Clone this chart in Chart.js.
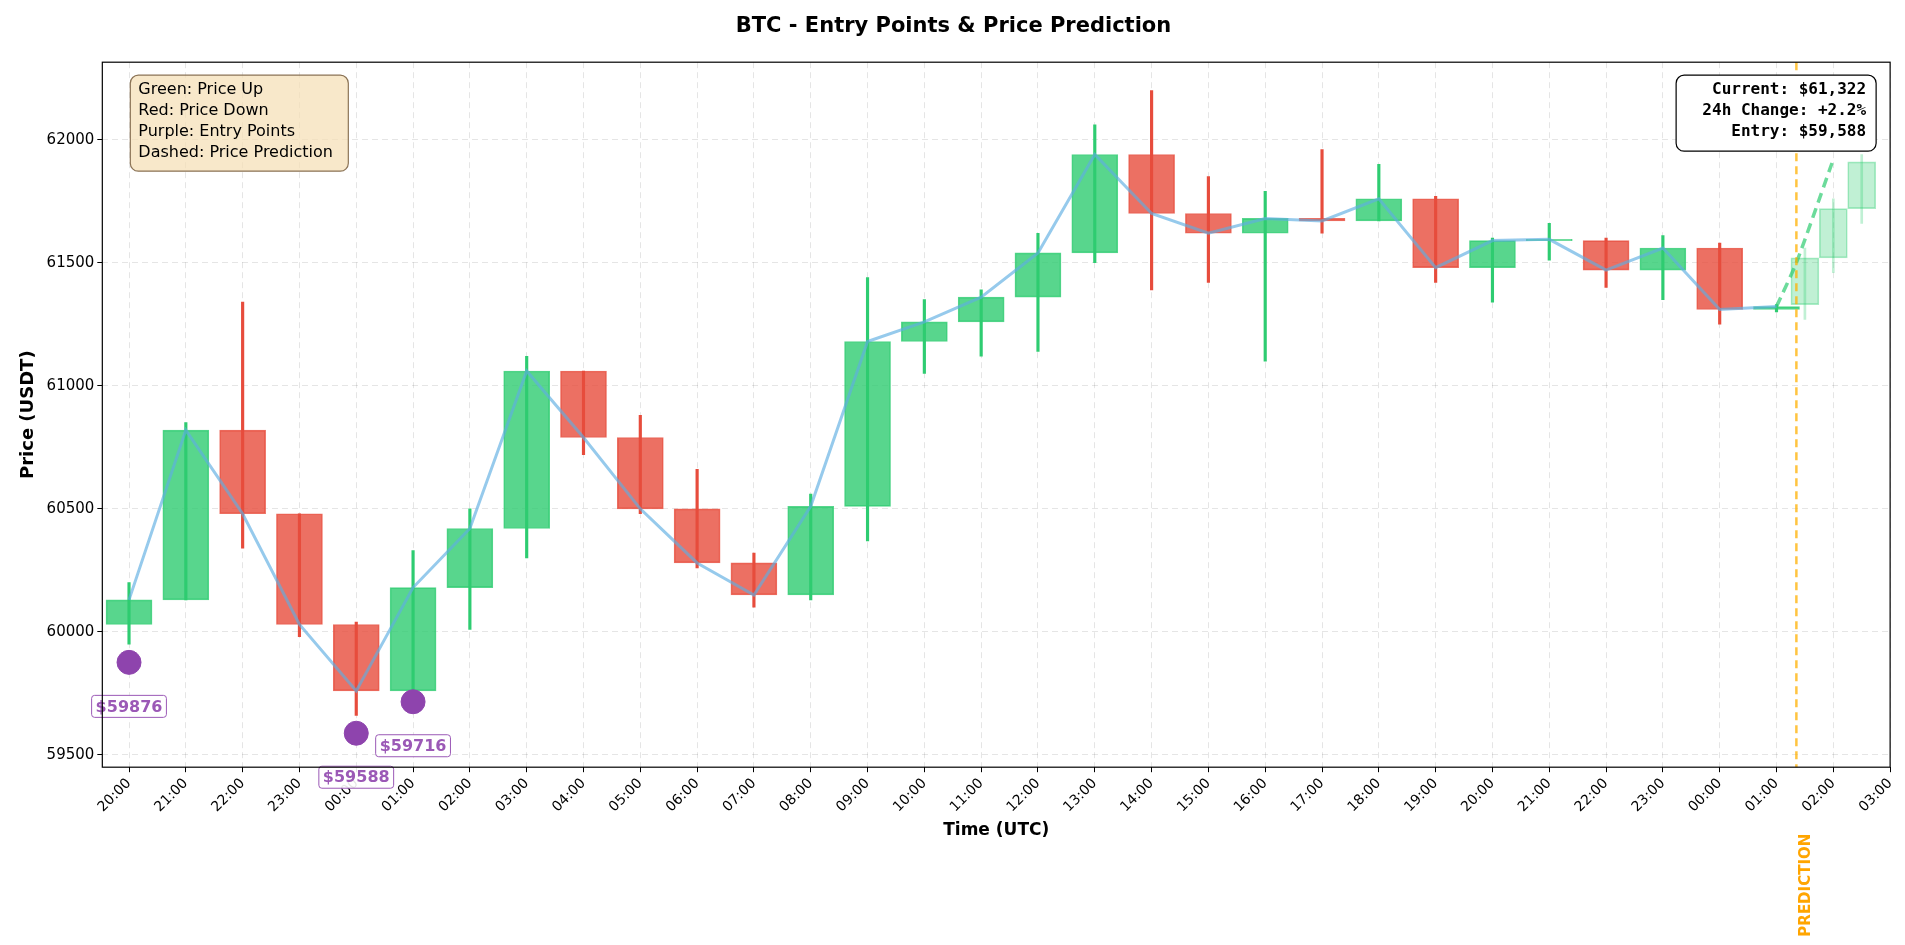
<!DOCTYPE html>
<html>
<head>
<meta charset="utf-8">
<script src="https://cdn.jsdelivr.net/npm/chart.js@4.4.0/dist/chart.umd.min.js"></script>
<style>
  body { margin: 0; background: #fff; }
  #wrap { width: 1905px; height: 945px; }
</style>
</head>
<body>
<div id="wrap"><canvas id="btcChart"></canvas></div>
<script>
// tick labels (one per hour)
const hourLabels = ['20:00','21:00','22:00','23:00','00:00','01:00','02:00','03:00','04:00','05:00',
  '06:00','07:00','08:00','09:00','10:00','11:00','12:00','13:00','14:00','15:00','16:00','17:00',
  '18:00','19:00','20:00','21:00','22:00','23:00','00:00','01:00','02:00','03:00'];

// OHLC valeurs
const opens  = [60030,60130,60820,60480,60030,59760,60180,60420,61060,60790,60500,60280,60150,60510,61180,61260,61360,61540,61940,61700,61620,61680,61670,61760,61480,61590,61590,61470,61560,61310];
const closes = [60130,60820,60480,60030,59760,60180,60420,61060,60790,60500,60280,60150,60510,61180,61260,61360,61540,61940,61700,61620,61680,61670,61760,61480,61590,61595,61470,61560,61310,61322];
const highs  = [60200,60850,61340,60480,60040,60330,60500,61120,61060,60880,60660,60320,60560,61440,61350,61390,61620,62060,62200,61850,61790,61960,61900,61770,61600,61660,61600,61610,61580,61330];
const lows   = [59950,60130,60340,59980,59660,59750,60010,60300,60720,60480,60260,60100,60130,60370,61050,61120,61140,61500,61390,61420,61100,61620,61670,61420,61340,61510,61400,61350,61250,61300];

// prédiction
const predX      = [29.5, 30, 30.5];
const predOpens  = [61330, 61520, 61720];
const predCloses = [61520, 61720, 61910];
const predHighs  = [61560, 61760, 61940];
const predLows   = [61270, 61460, 61660];
const predLineX  = [29, 29.35, 30];
const predLineY  = [61322, 61500, 61920];
const predictionAt = 29.35;

// points d'entrée
const entryX = [0, 4, 5];
const entryY = [59876, 59588, 59716];

const GREEN = 'rgba(46,204,113,0.8)';
const RED = 'rgba(231,76,60,0.8)';

const bodies = opens.map((o, i) => ({ x: i, y: [o, closes[i]] }));
const wicks = opens.map((o, i) => ({ x: i, y: [lows[i], highs[i]] }));
const bodyColors = opens.map((o, i) => closes[i] >= o ? GREEN : RED);
const wickColors = opens.map((o, i) => closes[i] >= o ? '#2ecc71' : '#e74c3c');

// plugin pour les annotations (boîtes de texte, ligne PREDICTION, étiquettes)
const annotations = {
  id: 'annotations',
  afterDatasetsDraw(chart) {
    const { ctx, chartArea, scales } = chart;
    const xs = scales.x, ys = scales.y;
    ctx.save();

    // ligne verticale prédiction
    const px = xs.getPixelForValue(predictionAt);
    ctx.strokeStyle = 'rgba(255,176,0,0.75)';
    ctx.lineWidth = 2.5;
    ctx.setLineDash([8, 5]);
    ctx.beginPath(); ctx.moveTo(px, chartArea.top); ctx.lineTo(px, chartArea.bottom); ctx.stroke();
    ctx.setLineDash([]);

    ctx.save();
    ctx.translate(px + 10, chartArea.bottom + 118);
    ctx.rotate(-Math.PI / 2);
    ctx.fillStyle = '#ffa500';
    ctx.font = 'bold 15px "DejaVu Sans"';
    ctx.textAlign = 'center';
    ctx.textBaseline = 'middle';
    ctx.fillText('PREDICTION', 0, 0);
    ctx.restore();

    // étiquettes des points d'entrée
    ctx.font = 'bold 16px "DejaVu Sans"';
    entryX.forEach((ex, i) => {
      const cx = xs.getPixelForValue(ex);
      const cy = ys.getPixelForValue(entryY[i]) + 44;
      const txt = '$' + entryY[i];
      const w = ctx.measureText(txt).width + 8;
      ctx.fillStyle = 'rgba(255,255,255,0.9)';
      ctx.strokeStyle = '#9b59b6';
      ctx.lineWidth = 1;
      roundRect(ctx, cx - w / 2, cy - 11, w, 22, 3);
      ctx.fill(); ctx.stroke();
      ctx.fillStyle = '#9b59b6';
      ctx.textAlign = 'center';
      ctx.textBaseline = 'middle';
      ctx.fillText(txt, cx, cy + 1);
    });

    // boîte de légende
    const legendLines = ['Green: Price Up', 'Red: Price Down', 'Purple: Entry Points', 'Dashed: Price Prediction'];
    ctx.font = '16px "DejaVu Sans"';
    const lx = chartArea.left + 28, ly = chartArea.top + 13;
    ctx.fillStyle = 'rgba(245,222,179,0.7)';
    ctx.strokeStyle = '#8b7355';
    ctx.lineWidth = 1.2;
    roundRect(ctx, lx, ly, 218, 96, 8);
    ctx.fill(); ctx.stroke();
    ctx.fillStyle = '#000';
    ctx.textAlign = 'left';
    ctx.textBaseline = 'top';
    legendLines.forEach((t, i) => ctx.fillText(t, lx + 8, ly + 7 + i * 21));

    // boîte info
    const infoLines = ['Current: $61,322', '24h Change: +2.2%', 'Entry: $59,588'];
    ctx.font = 'bold 16px "DejaVu Sans Mono"';
    const bx = chartArea.right - 214, by = chartArea.top + 13;
    ctx.fillStyle = '#fff';
    ctx.strokeStyle = '#000';
    roundRect(ctx, bx, by, 200, 76, 8);
    ctx.fill(); ctx.stroke();
    ctx.fillStyle = '#000';
    ctx.textAlign = 'right';
    infoLines.forEach((t, i) => ctx.fillText(t, bx + 190, by + 7 + i * 21));

    ctx.restore();
  }
};

function roundRect(ctx, x, y, w, h, r) {
  ctx.beginPath();
  ctx.moveTo(x + r, y);
  ctx.arcTo(x + w, y, x + w, y + h, r);
  ctx.arcTo(x + w, y + h, x, y + h, r);
  ctx.arcTo(x, y + h, x, y, r);
  ctx.arcTo(x, y, x + w, y, r);
  ctx.closePath();
}

// cadre noir autour de la zone du graphique
const frame = {
  id: 'frame',
  afterDraw(chart) {
    const { ctx, chartArea: a } = chart;
    ctx.save();
    ctx.strokeStyle = '#000';
    ctx.lineWidth = 1.2;
    ctx.strokeRect(a.left, a.top, a.right - a.left, a.bottom - a.top);
    ctx.restore();
  }
};

Chart.defaults.font.family = '"DejaVu Sans"';
Chart.defaults.color = '#000';

new Chart(document.getElementById('btcChart'), {
  type: 'bar',
  data: {
    datasets: [
      {
        type: 'line', label: 'close', data: closes.map((c, i) => ({ x: i, y: c })),
        borderColor: 'rgba(93,173,226,0.65)', borderWidth: 3, pointRadius: 0, tension: 0, order: 0
      },
      {
        label: 'wicks', data: wicks, backgroundColor: wickColors, barThickness: 2.5,
        grouped: false, order: 2
      },
      {
        label: 'bodies', data: bodies, backgroundColor: bodyColors, borderColor: bodyColors,
        borderWidth: 1, barThickness: 46, grouped: false, order: 1, borderSkipped: false
      },
      {
        label: 'predWicks', data: predX.map((x, i) => ({ x, y: [predLows[i], predHighs[i]] })),
        backgroundColor: 'rgba(46,204,113,0.3)', barThickness: 2, grouped: false, order: 2
      },
      {
        label: 'predBodies', data: predX.map((x, i) => ({ x, y: [predOpens[i], predCloses[i]] })),
        backgroundColor: 'rgba(46,204,113,0.3)', borderColor: 'rgba(46,204,113,0.4)',
        borderWidth: 1, barThickness: 28, grouped: false, order: 1, borderSkipped: false
      },
      {
        type: 'line', label: 'pred', data: predLineX.map((x, i) => ({ x, y: predLineY[i] })),
        borderColor: 'rgba(46,204,113,0.7)', borderWidth: 3.5, borderDash: [10, 6],
        pointRadius: 0, tension: 0.2, order: 0
      },
      {
        type: 'scatter', label: 'entry', data: entryX.map((x, i) => ({ x, y: entryY[i] })),
        backgroundColor: '#8e44ad', borderColor: '#8e44ad', pointRadius: 12, order: -1
      }
    ]
  },
  options: {
    responsive: true,
    maintainAspectRatio: false,
    animation: false,
    layout: { padding: { left: 14, right: 12, top: 4, bottom: 100 } },
    plugins: {
      legend: { display: false },
      tooltip: { enabled: false },
      title: {
        display: true, text: 'BTC - Entry Points & Price Prediction',
        font: { size: 21, weight: 'bold' }, padding: { top: 10, bottom: 23 }
      }
    },
    scales: {
      x: {
        type: 'linear', min: -0.47, max: 31, offset: false,
        afterBuildTicks(axis) { axis.ticks = hourLabels.map((l, i) => ({ value: i })); },
        ticks: {
          autoSkip: false, maxRotation: 45, minRotation: 45, font: { size: 14 },
          callback: (v) => hourLabels[v]
        },
        grid: { offset: false, color: 'rgba(0,0,0,0.1)', tickColor: '#000', tickLength: 5 },
        border: { dash: [6, 4], display: false },
        title: { display: true, text: 'Time (UTC)', font: { size: 17, weight: 'bold' }, padding: { top: 2 } }
      },
      y: {
        min: 59450, max: 62315,
        afterBuildTicks(axis) {
          const t = [];
          for (let v = 59500; v <= 62000; v += 500) t.push({ value: v });
          axis.ticks = t;
        },
        ticks: { font: { size: 15 }, callback: (v) => String(v) },
        grid: { offset: false, color: 'rgba(0,0,0,0.1)', tickColor: '#000', tickLength: 5 },
        border: { dash: [6, 4], display: false },
        title: { display: true, text: 'Price (USDT)', font: { size: 18, weight: 'bold' } }
      }
    }
  },
  plugins: [annotations, frame]
});
</script>
</body>
</html>
